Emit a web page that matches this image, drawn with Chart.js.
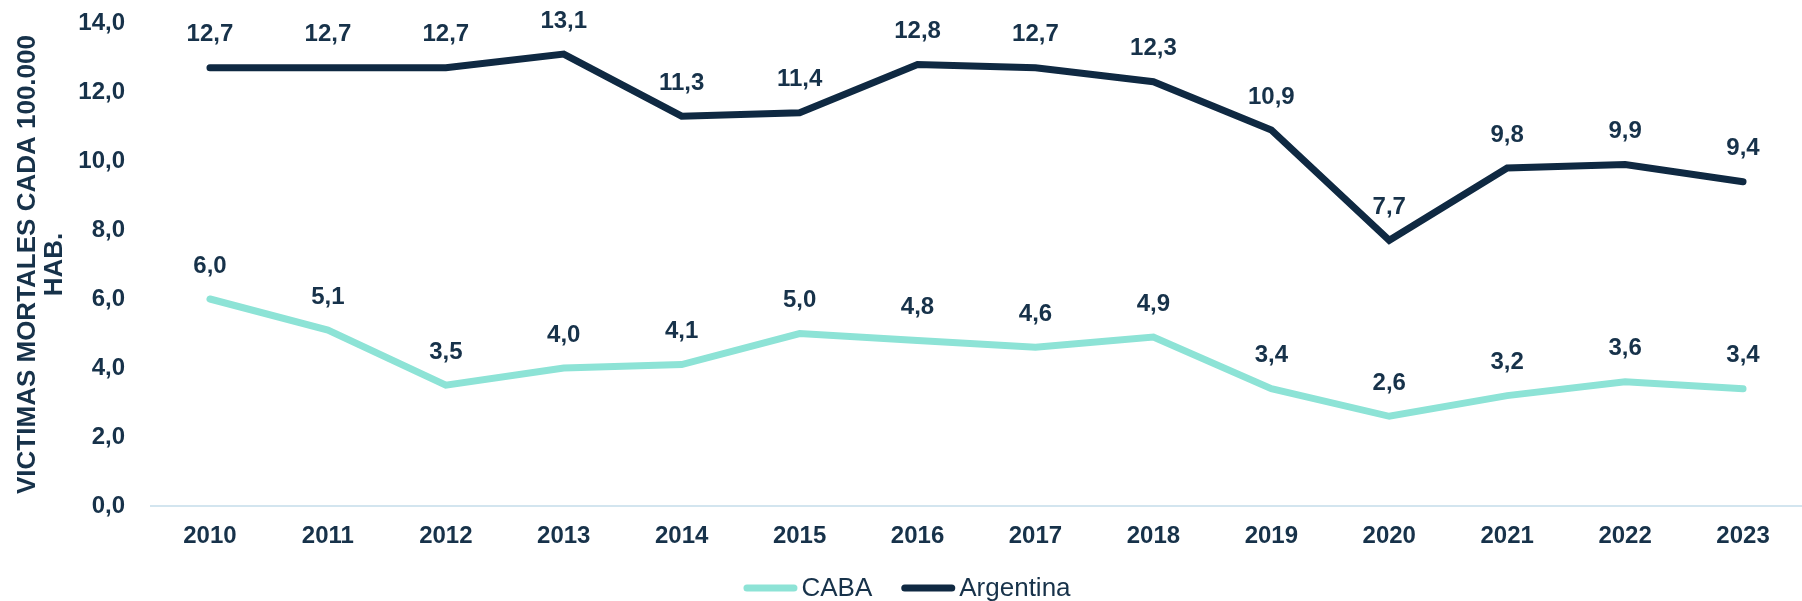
<!DOCTYPE html>
<html>
<head>
<meta charset="utf-8">
<script src="https://cdn.jsdelivr.net/npm/chart.js@4"></script>
<style>
  html, body { margin: 0; padding: 0; background: #ffffff; }
  #wrap { width: 1802px; height: 601px; position: relative; }
</style>
</head>
<body>
<div id="wrap"><canvas id="c" width="1802" height="601"></canvas></div>
<script>
const years = ['2010','2011','2012','2013','2014','2015','2016','2017','2018','2019','2020','2021','2022','2023'];
const caba = [6.0, 5.1, 3.5, 4.0, 4.1, 5.0, 4.8, 4.6, 4.9, 3.4, 2.6, 3.2, 3.6, 3.4];
const argentina = [12.7, 12.7, 12.7, 13.1, 11.3, 11.4, 12.8, 12.7, 12.3, 10.9, 7.7, 9.8, 9.9, 9.4];
const yTitle = ['VICTIMAS MORTALES CADA 100.000', 'HAB.'];

const TEXT = '#17324a';
const NAVY = '#0f2942';
const TEAL = '#8de3d6';
const FONT = "'Liberation Sans', Arial, sans-serif";

const fmt = v => v.toFixed(1).replace('.', ',');

const labelPlugin = {
  id: 'valueLabels',
  afterDatasetsDraw(chart) {
    const ctx = chart.ctx;
    ctx.save();
    ctx.font = `bold 24px ${FONT}`;
    ctx.fillStyle = TEXT;
    ctx.textAlign = 'center';
    ctx.textBaseline = 'middle';
    chart.data.datasets.forEach((ds, i) => {
      const meta = chart.getDatasetMeta(i);
      meta.data.forEach((pt, j) => {
        ctx.fillText(fmt(ds.data[j]), pt.x, pt.y - 33);
      });
    });
    ctx.restore();
  }
};

// legend drawn from the datasets (sample line, small gap, label)
const legendPlugin = {
  id: 'customLegend',
  afterDraw(chart) {
    const ctx = chart.ctx;
    const sample = 54, lw = 7, textGap = 4, itemGap = 29, cy = 588, centerX = 907;
    ctx.save();
    ctx.font = `26px ${FONT}`;
    const items = chart.data.datasets.map(ds => ({
      label: ds.label, color: ds.borderColor, w: ctx.measureText(ds.label).width
    }));
    const total = items.reduce((s, it) => s + sample + textGap + it.w, 0) + itemGap * (items.length - 1);
    let x = centerX - total / 2;
    items.forEach(it => {
      ctx.strokeStyle = it.color;
      ctx.lineWidth = lw;
      ctx.lineCap = 'round';
      ctx.beginPath();
      ctx.moveTo(x + lw / 2, cy);
      ctx.lineTo(x + sample - lw / 2, cy);
      ctx.stroke();
      ctx.fillStyle = TEXT;
      ctx.textAlign = 'left';
      ctx.textBaseline = 'middle';
      ctx.fillText(it.label, x + sample + textGap, cy + 1);
      x += sample + textGap + it.w + itemGap;
    });
    ctx.restore();
  }
};

new Chart(document.getElementById('c'), {
  type: 'line',
  data: {
    labels: years,
    datasets: [
      { label: 'CABA', data: caba, borderColor: TEAL, backgroundColor: TEAL, borderWidth: 7,
        borderCapStyle: 'round', borderJoinStyle: 'miter', pointRadius: 0, tension: 0 },
      { label: 'Argentina', data: argentina, borderColor: NAVY, backgroundColor: NAVY, borderWidth: 7,
        borderCapStyle: 'round', borderJoinStyle: 'miter', pointRadius: 0, tension: 0 }
    ]
  },
  options: {
    responsive: false,
    animation: false,
    layout: { padding: { top: 0, right: 0, left: 0, bottom: 35 } },
    plugins: {
      legend: { display: false },
      tooltip: { enabled: false }
    },
    scales: {
      x: {
        offset: true,
        grid: { display: false, drawTicks: false },
        border: { display: true, color: '#d3e5ef', width: 2 },
        ticks: { color: TEXT, font: { family: FONT, size: 24, weight: 'bold', lineHeight: 2.0 }, padding: 6 }
      },
      y: {
        min: 0, max: 14,
        grid: { display: false, drawTicks: false },
        border: { display: false },
        ticks: { stepSize: 2, color: TEXT, font: { family: FONT, size: 24, weight: 'bold' }, padding: 26,
                 callback: v => fmt(v) },
        title: { display: true, text: yTitle, color: TEXT,
                 font: { family: FONT, size: 26, weight: 'bold', lineHeight: 1.04 },
                 padding: { top: 14, bottom: 0 } },
        afterFit(scale) { scale.width = 151; scale.paddingTop = 23; }
      }
    }
  },
  plugins: [labelPlugin, legendPlugin]
});
</script>
</body>
</html>
